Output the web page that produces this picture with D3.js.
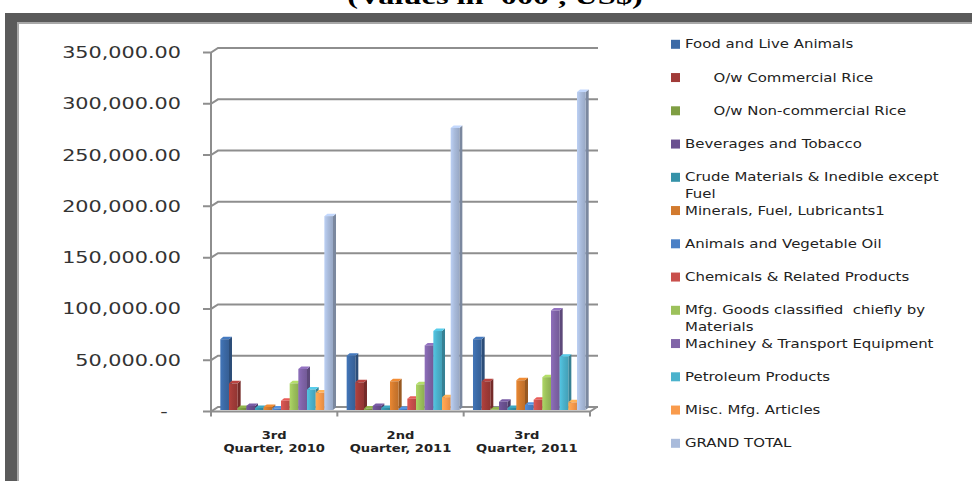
<!DOCTYPE html>
<html>
<head>
<meta charset="utf-8">
<script src="https://cdn.jsdelivr.net/npm/d3@7"></script>
<style>
body { margin: 0; background: #fff; }
svg { display: block; font-family: "DejaVu Sans", sans-serif; }
text { white-space: pre; }
</style>
</head>
<body>
<svg id="chart" width="972" height="481"></svg>
<script>
/* global d3 */

const categories = ["3rd\nQuarter, 2010", "2nd\nQuarter, 2011", "3rd\nQuarter, 2011"];

const seriesNames = [
	"Food and Live Animals",
	"      O/w Commercial Rice",
	"      O/w Non-commercial Rice",
	"Beverages and Tobacco",
	"Crude Materials & Inedible except\nFuel",
	"Minerals, Fuel, Lubricants1",
	"Animals and Vegetable Oil",
	"Chemicals & Related Products",
	"Mfg. Goods classified  chiefly by\nMaterials",
	"Machiney & Transport Equipment",
	"Petroleum Products",
	"Misc. Mfg. Articles",
	"GRAND TOTAL",
];

const seriesColors = [
	"#3c6aa6", "#a13b38", "#7f9e43", "#6a5090", "#3592a8", "#d27a2e",
	"#4a80c6", "#c9504c", "#9cc15b", "#8064a8", "#4bb2cc", "#f99b4c", "#a9bbdb",
];

// values in '000 US$, one entry per series
const q3_2010 = [69000, 26000, 2000, 4000, 2000, 3000, 1500, 9000, 26000, 40000, 20000, 17000, 189000];
const q2_2011 = [53000, 27000, 1500, 4000, 2000, 28000, 1000, 11000, 25000, 63000, 77000, 12500, 275000];
const q3_2011 = [69000, 28000, 500, 8000, 2000, 29000, 5000, 10000, 32000, 97000, 52000, 7500, 310000];
const values = [q3_2010, q2_2011, q3_2011];

const yTicks = [0, 50000, 100000, 150000, 200000, 250000, 300000, 350000];

const svg = d3.select("#chart");
const depth = { dx: 7, dy: -4.5 };
const gridColor = "#8e8e8e";

const y = d3.scaleLinear().domain([0, 350000]).range([411.5, 52.5]);
const x0 = d3.scaleBand().domain(d3.range(categories.length)).range([211, 590]).paddingInner(0.108).paddingOuter(0.054);
const x1 = d3.scaleBand().domain(d3.range(seriesNames.length)).range([0, x0.bandwidth()]);

function stretched(parent, x, yPos, sx) {
	return parent.append("g").attr("transform", `translate(${x},${yPos}) scale(${sx},1)`);
}

// frame
svg.append("rect").attr("x", 5).attr("y", 13).attr("width", 967).attr("height", 9).attr("fill", "#5a5a5a");
svg.append("rect").attr("x", 5).attr("y", 13).attr("width", 12).attr("height", 468).attr("fill", "#5a5a5a");
svg.append("path").attr("d", "M18,481V23H972").attr("fill", "none").attr("stroke", "#a8a8a8").attr("stroke-width", 2);

// title (cut off at the top)
stretched(svg, 495, 4, 1.35)
	.append("text")
	.attr("text-anchor", "middle")
	.attr("font-family", "'Liberation Serif', serif")
	.attr("font-weight", "bold")
	.attr("font-size", 24)
	.text("(Values in '000', US$)");

// back wall gridlines and left axis
const axis = svg.append("g").attr("fill", "none").attr("stroke", gridColor).attr("stroke-width", 2);
for (const t of yTicks) {
	const yy = y(t);
	axis.append("path").attr("d", `M203,${yy}H211L${211 + depth.dx},${yy + depth.dy}H${590 + depth.dx + 1}`);
}
axis.append("line").attr("x1", 211).attr("x2", 211).attr("y1", y(350000)).attr("y2", y(0) + 2);

// floor
axis.append("path")
	.attr("d", `M211,${y(0)}H590L${590 + depth.dx},${y(0) + depth.dy}`);
for (let k = 0; k <= categories.length; k++) {
	const xx = 211 + k * x0.step();
	axis.append("line").attr("x1", xx).attr("x2", xx).attr("y1", y(0)).attr("y2", y(0) + 5);
}

// y tick labels
for (const t of yTicks) {
	stretched(svg, 181, y(t), 1.34)
		.append("text")
		.attr("text-anchor", "end")
		.attr("dy", "0.35em")
		.attr("font-size", 15.5)
		.attr("fill", "#333")
		.text(t === 0 ? "-\u2007" : d3.format(",.2f")(t));
}

// gradients
const defs = svg.append("defs");
seriesColors.forEach((c, i) => {
	const g = defs.append("linearGradient").attr("id", `bar${i}`).attr("x1", "0%").attr("x2", "100%");
	g.append("stop").attr("offset", "0%").attr("stop-color", d3.color(c).brighter(0.3));
	g.append("stop").attr("offset", "45%").attr("stop-color", c);
	g.append("stop").attr("offset", "100%").attr("stop-color", d3.color(c).darker(0.3));
});

// bars
const barDepth = { dx: 3, dy: -2.5 };
const bars = svg.append("g");
values.forEach((row, ci) => {
	row.forEach((v, si) => {
		const xl = x0(ci) + x1(si) + 2.5;
		const w = x1.bandwidth();
		const yb = y(0) - 1.5;
		const yt = y(v) - 1.5;
		const c = seriesColors[si];
		const g = bars.append("g");
		g.append("path")
			.attr("d", `M${xl + w},${yt}L${xl + w + barDepth.dx},${yt + barDepth.dy}V${yb + barDepth.dy}L${xl + w},${yb}Z`)
			.attr("fill", d3.color(c).darker(0.9));
		g.append("path")
			.attr("d", `M${xl},${yt}H${xl + w}L${xl + w + barDepth.dx},${yt + barDepth.dy}H${xl + barDepth.dx}Z`)
			.attr("fill", d3.color(c).brighter(0.4));
		g.append("rect")
			.attr("x", xl)
			.attr("y", yt)
			.attr("width", w)
			.attr("height", yb - yt)
			.attr("fill", `url(#bar${si})`);
	});
});

// category labels
categories.forEach((label, ci) => {
	const t = stretched(svg, x0(ci) + x0.bandwidth() / 2, 439, 1.25)
		.append("text")
		.attr("text-anchor", "middle")
		.attr("font-size", 10.5)
		.attr("font-weight", "bold")
		.attr("fill", "#222");
	label.split("\n").forEach((line, li) => {
		t.append("tspan").attr("x", 0).attr("dy", li === 0 ? 0 : 13.3).text(line);
	});
});

// legend
seriesNames.forEach((name, i) => {
	const cy = 44.3 + i * 33.25;
	svg.append("rect").attr("x", 671).attr("y", cy - 4.5).attr("width", 9).attr("height", 9).attr("fill", seriesColors[i]);
	const t = stretched(svg, 685, cy, 1.3)
		.append("text")
		.attr("xml:space", "preserve")
		.attr("dy", "0.35em")
		.attr("font-size", 11.5)
		.attr("fill", "#222");
	name.split("\n").forEach((line, li) => {
		t.append("tspan").attr("x", 0).attr("dy", li === 0 ? "0.35em" : 16.5).text(line);
	});
});
</script>
</body>
</html>
